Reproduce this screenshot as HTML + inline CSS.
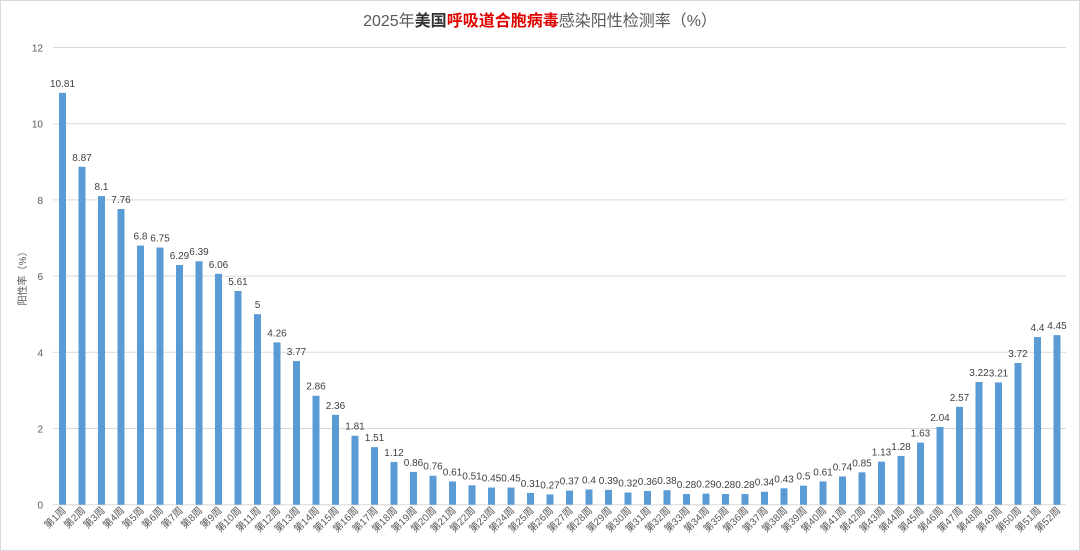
<!DOCTYPE html><html><head><meta charset="utf-8"><style>body{margin:0;background:#fff}svg{display:block}text{font-family:"Liberation Sans","Noto Sans CJK SC",sans-serif}</style></head><body>
<svg id="s" width="1080" height="551" xmlns="http://www.w3.org/2000/svg">
<rect x="0.5" y="0.5" width="1079" height="550" fill="#fff" stroke="#d9d9d9"/>
<text x="540" y="26" text-anchor="middle" font-size="16" fill="#595959">2025年<tspan font-weight="bold" fill="#333">美国</tspan><tspan font-weight="bold" fill="#e00000">呼吸道合胞病毒</tspan>感染阳性检测率（%）</text>
<text transform="translate(26,276) rotate(-90)" text-anchor="middle" font-size="10" fill="#595959">阳性率（%）</text>
<g id="g"></g>
</svg>
<script>
var v=[10.81,8.87,8.1,7.76,6.8,6.75,6.29,6.39,6.06,5.61,5,4.26,3.77,2.86,2.36,1.81,1.51,1.12,0.86,0.76,0.61,0.51,0.45,0.45,0.31,0.27,0.37,0.4,0.39,0.32,0.36,0.38,0.28,0.29,0.28,0.28,0.34,0.43,0.5,0.61,0.74,0.85,1.13,1.28,1.63,2.04,2.57,3.22,3.21,3.72,4.4,4.45];
var h='',y0=504.7,u=(504.7-47.5)/12;
for(var i=0;i<=12;i+=2){var y=y0-i*u;h+='<line x1="53" x2="1066" y1="'+y+'" y2="'+y+'" stroke="#d9d9d9"/><text x="43" y="'+(y+4)+'" text-anchor="end" font-size="10" fill="#595959">'+i+'</text>';}
for(var i=0;i<52;i++){var cx=62.5+i*19.5,t=y0-v[i]*u;h+='<rect x="'+(cx-3.5)+'" y="'+t+'" width="7" height="'+(y0-t)+'" fill="#5b9bd5"/><text x="'+cx+'" y="'+(t-6)+'" text-anchor="middle" font-size="10" fill="#404040">'+v[i]+'</text><text transform="translate('+(cx+4)+',511) rotate(-45)" text-anchor="end" font-size="10" fill="#595959">第'+(i+1)+'周</text>';}
document.getElementById('g').innerHTML=h;
</script>
</body></html>
